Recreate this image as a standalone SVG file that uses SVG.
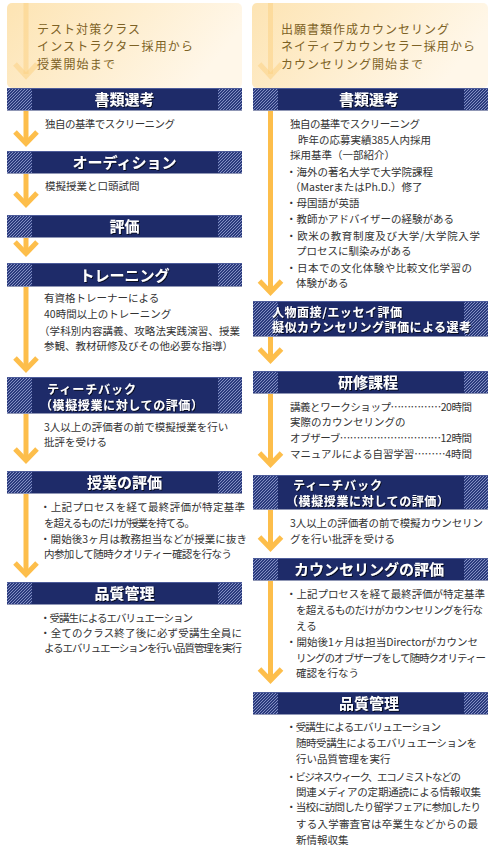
<svg xmlns="http://www.w3.org/2000/svg" width="495" height="850" viewBox="0 0 495 850">
<style>
.bg{fill:#ffffff}
.hdr{fill:url(#hg)}
.bar{fill:#1e2b69}
.btop{fill:#4d5c9a}
.bbot{fill:#9097b5}
.hatch{fill:url(#hatch)}
.ht{font-family:"Noto Sans CJK JP","Noto Sans CJK SC",sans-serif;font-size:12px;fill:#7d6225}
.bt{font-family:"Noto Sans CJK JP","Noto Sans CJK SC",sans-serif;font-size:15px;font-weight:bold;fill:#ffffff;text-anchor:middle;filter:url(#sh)}
.bt2{font-family:"Noto Sans CJK JP","Noto Sans CJK SC",sans-serif;font-size:12px;font-weight:bold;fill:#ffffff;filter:url(#sh)}
.tx{font-family:"Noto Sans CJK JP","Noto Sans CJK SC",sans-serif;font-size:10.5px;fill:#333333}
.ln{stroke:#fdbe4b;stroke-width:5;fill:none}
.chev{stroke:#fdbe4b;stroke-width:5;fill:none;stroke-linejoin:miter;stroke-miterlimit:10}
.fln{stroke:#fcd185;stroke-width:5;fill:none;opacity:0.55}
</style>
<defs>
<linearGradient id="hg" x1="0" y1="0" x2="1" y2="0.3">
<stop offset="0" stop-color="#fde4b3"/>
<stop offset="1" stop-color="#fff7e9"/>
</linearGradient>
<pattern id="hatch" patternUnits="userSpaceOnUse" width="3" height="3">
<rect width="3" height="3" fill="#2a3a7c"/>
<path d="M-1,1 L1,-1 M0,3 L3,0 M2,4 L4,2" stroke="#8d99cb" stroke-width="0.9"/>
</pattern>
<filter id="sh" x="-10%" y="-30%" width="120%" height="160%">
<feDropShadow dx="1" dy="1" stdDeviation="0.4" flood-color="#000000" flood-opacity="0.7"/>
</filter>
</defs>
<rect class="bg" x="0" y="0" width="495" height="850"/>

<!-- headers -->
<g id="header-left">
<rect class="hdr" x="7" y="3" width="235" height="85" rx="5"/>
<line class="fln" x1="26" y1="3" x2="26" y2="74"/>
<polyline class="fln" points="15,64 26,76 37,64"/>
<text class="ht" x="37" y="33.5" textLength="103">テスト対策クラス</text>
<text class="ht" x="37" y="51" textLength="156">インストラクター採用から</text>
<text class="ht" x="37" y="68.5" textLength="78">授業開始まで</text>
</g>
<g id="header-right">
<rect class="hdr" x="252" y="3" width="236" height="85" rx="5"/>
<line class="fln" x1="270.5" y1="3" x2="270.5" y2="74"/>
<polyline class="fln" points="259.5,64 270.5,76 281.5,64"/>
<text class="ht" x="281" y="33.5" textLength="168">出願書類作成カウンセリング</text>
<text class="ht" x="281" y="51" textLength="194">ネイティブカウンセラー採用から</text>
<text class="ht" x="281" y="68.5" textLength="142">カウンセリング開始まで</text>
</g>

<!-- connectors -->
<g id="connectors">
<line class="ln" x1="26" y1="111" x2="26" y2="143"/>
<polyline class="chev" points="15,132 26,143.5 37,132"/>
<line class="ln" x1="26" y1="174" x2="26" y2="204"/>
<polyline class="chev" points="15,193 26,204.5 37,193"/>
<line class="ln" x1="26" y1="238" x2="26" y2="253"/>
<polyline class="chev" points="15,242 26,253.5 37,242"/>
<line class="ln" x1="26" y1="287" x2="26" y2="369"/>
<polyline class="chev" points="15,358 26,369.5 37,358"/>
<line class="ln" x1="26" y1="414" x2="26" y2="460"/>
<polyline class="chev" points="15,449 26,460.5 37,449"/>
<line class="ln" x1="26" y1="494" x2="26" y2="574"/>
<polyline class="chev" points="15,563 26,574.5 37,563"/>

<line class="ln" x1="270.5" y1="111" x2="270.5" y2="292"/>
<polyline class="chev" points="259.5,281 270.5,292.5 281.5,281"/>
<line class="ln" x1="270.5" y1="337" x2="270.5" y2="360"/>
<polyline class="chev" points="259.5,349 270.5,360.5 281.5,349"/>
<line class="ln" x1="270.5" y1="394" x2="270.5" y2="464"/>
<polyline class="chev" points="259.5,453 270.5,464.5 281.5,453"/>
<line class="ln" x1="270.5" y1="510" x2="270.5" y2="548"/>
<polyline class="chev" points="259.5,537 270.5,548.5 281.5,537"/>
<line class="ln" x1="270.5" y1="581" x2="270.5" y2="680"/>
<polyline class="chev" points="259.5,669 270.5,680.5 281.5,669"/>
</g>

<!-- left column nodes -->
<g id="l-shorui">
<rect class="bar" x="7" y="88" width="235" height="23"/>
<rect class="hatch" x="7" y="88" width="25" height="23"/>
<rect class="hatch" x="218" y="88" width="24" height="23"/>
<rect class="btop" x="7" y="88" width="235" height="1"/>
<rect class="bbot" x="7" y="110" width="235" height="1"/>
<text class="bt" x="124.5" y="105">書類選考</text>
<text class="tx" x="45" y="128" textLength="130">独自の基準でスクリーニング</text>
</g>
<g id="l-audition">
<rect class="bar" x="7" y="151" width="235" height="23"/>
<rect class="hatch" x="7" y="151" width="25" height="23"/>
<rect class="hatch" x="218" y="151" width="24" height="23"/>
<rect class="btop" x="7" y="151" width="235" height="1"/>
<rect class="bbot" x="7" y="173" width="235" height="1"/>
<text class="bt" x="124.5" y="168">オーディション</text>
<text class="tx" x="45" y="190">模擬授業と口頭試問</text>
</g>
<g id="l-hyoka">
<rect class="bar" x="7" y="215" width="235" height="23"/>
<rect class="hatch" x="7" y="215" width="25" height="23"/>
<rect class="hatch" x="218" y="215" width="24" height="23"/>
<rect class="btop" x="7" y="215" width="235" height="1"/>
<rect class="bbot" x="7" y="237" width="235" height="1"/>
<text class="bt" x="124.5" y="232">評価</text>
</g>
<g id="l-training">
<rect class="bar" x="7" y="263" width="235" height="24"/>
<rect class="hatch" x="7" y="263" width="25" height="24"/>
<rect class="hatch" x="218" y="263" width="24" height="24"/>
<rect class="btop" x="7" y="263" width="235" height="1"/>
<rect class="bbot" x="7" y="286" width="235" height="1"/>
<text class="bt" x="124.5" y="280.5">トレーニング</text>
<text class="tx" x="44" y="302">有資格トレーナーによる</text>
<text class="tx" x="44" y="318">40時間以上のトレーニング</text>
<text class="tx" x="39" y="335" textLength="201">（学科別内容講義、攻略法実践演習、授業</text>
<text class="tx" x="44" y="350">参観、教材研修及びその他必要な指導）</text>
</g>
<g id="l-teachback">
<rect class="bar" x="7" y="377" width="235" height="37"/>
<rect class="hatch" x="7" y="377" width="25" height="37"/>
<rect class="hatch" x="218" y="377" width="24" height="37"/>
<rect class="btop" x="7" y="377" width="235" height="1"/>
<rect class="bbot" x="7" y="413" width="235" height="1"/>
<text class="bt2" x="47" y="394" textLength="89">ティーチバック</text>
<text class="bt2" x="40" y="409.5" textLength="163">（模擬授業に対しての評価）</text>
<text class="tx" x="44" y="431">3人以上の評価者の前で模擬授業を行い</text>
<text class="tx" x="44" y="446">批評を受ける</text>
</g>
<g id="l-jugyo">
<rect class="bar" x="7" y="471" width="235" height="23"/>
<rect class="hatch" x="7" y="471" width="25" height="23"/>
<rect class="hatch" x="218" y="471" width="24" height="23"/>
<rect class="btop" x="7" y="471" width="235" height="1"/>
<rect class="bbot" x="7" y="493" width="235" height="1"/>
<text class="bt" x="124.5" y="488">授業の評価</text>
<text class="tx" x="40" y="511" textLength="205">・上記プロセスを経て最終評価が特定基準</text>
<text class="tx" x="44" y="527" textLength="151">を超えるものだけが授業を持てる。</text>
<text class="tx" x="40" y="543" textLength="207">・開始後3ヶ月は教務担当などが授業に抜き</text>
<text class="tx" x="44" y="558" textLength="188">内参加して随時クオリティー確認を行なう</text>
</g>
<g id="l-hinshitsu">
<rect class="bar" x="7" y="582" width="235" height="23"/>
<rect class="hatch" x="7" y="582" width="25" height="23"/>
<rect class="hatch" x="218" y="582" width="24" height="23"/>
<rect class="btop" x="7" y="582" width="235" height="1"/>
<rect class="bbot" x="7" y="604" width="235" height="1"/>
<text class="bt" x="124.5" y="599">品質管理</text>
<text class="tx" x="40" y="622" textLength="153">・受講生によるエバリュエーション</text>
<text class="tx" x="40" y="637" textLength="202">・全てのクラス終了後に必ず受講生全員に</text>
<text class="tx" x="44" y="652" textLength="198">よるエバリュエーションを行い品質管理を実行</text>
</g>

<!-- right column nodes -->
<g id="r-shorui">
<rect class="bar" x="253" y="88" width="235" height="23"/>
<rect class="hatch" x="253" y="88" width="25" height="23"/>
<rect class="hatch" x="464" y="88" width="24" height="23"/>
<rect class="btop" x="253" y="88" width="235" height="1"/>
<rect class="bbot" x="253" y="110" width="235" height="1"/>
<text class="bt" x="369" y="105">書類選考</text>
<text class="tx" x="290" y="128" textLength="130">独自の基準でスクリーニング</text>
<text class="tx" x="298" y="144">昨年の応募実績385人内採用</text>
<text class="tx" x="290" y="159">採用基準（一部紹介）</text>
<text class="tx" x="286" y="176">・海外の著名大学で大学院課程</text>
<text class="tx" x="290" y="191">（MasterまたはPh.D.）修了</text>
<text class="tx" x="286" y="207">・母国語が英語</text>
<text class="tx" x="286" y="223">・教師かアドバイザーの経験がある</text>
<text class="tx" x="286" y="240" textLength="194">・欧米の教育制度及び大学/大学院入学</text>
<text class="tx" x="296" y="255">プロセスに馴染みがある</text>
<text class="tx" x="286" y="272" textLength="186">・日本での文化体験や比較文化学習の</text>
<text class="tx" x="296" y="287">体験がある</text>
</g>
<g id="r-mensetsu">
<rect class="bar" x="253" y="301" width="235" height="36"/>
<rect class="hatch" x="253" y="301" width="25" height="36"/>
<rect class="hatch" x="464" y="301" width="24" height="36"/>
<rect class="btop" x="253" y="301" width="235" height="1"/>
<rect class="bbot" x="253" y="336" width="235" height="1"/>
<text class="bt2" x="272" y="316.5" textLength="130">人物面接/エッセイ評価</text>
<text class="bt2" x="272" y="332" textLength="199">擬似カウンセリング評価による選考</text>
</g>
<g id="r-kenshu">
<rect class="bar" x="253" y="371" width="235" height="23"/>
<rect class="hatch" x="253" y="371" width="25" height="23"/>
<rect class="hatch" x="464" y="371" width="24" height="23"/>
<rect class="btop" x="253" y="371" width="235" height="1"/>
<rect class="bbot" x="253" y="393" width="235" height="1"/>
<text class="bt" x="368" y="388">研修課程</text>
<text class="tx" x="290" y="411" textLength="182">講義とワークショップ……………20時間</text>
<text class="tx" x="290" y="426">実際のカウンセリングの</text>
<text class="tx" x="290" y="442" textLength="182">オブザーブ…………………………12時間</text>
<text class="tx" x="290" y="458" textLength="182">マニュアルによる自習学習………4時間</text>
</g>
<g id="r-teachback">
<rect class="bar" x="253" y="475" width="235" height="35"/>
<rect class="hatch" x="253" y="475" width="25" height="35"/>
<rect class="hatch" x="464" y="475" width="24" height="35"/>
<rect class="btop" x="253" y="475" width="235" height="1"/>
<rect class="bbot" x="253" y="509" width="235" height="1"/>
<text class="bt2" x="293" y="489.5" textLength="89">ティーチバック</text>
<text class="bt2" x="286" y="505.5" textLength="163">（模擬授業に対しての評価）</text>
<text class="tx" x="290" y="527" textLength="193">3人以上の評価者の前で模擬カウンセリン</text>
<text class="tx" x="290" y="543">グを行い批評を受ける</text>
</g>
<g id="r-counseling">
<rect class="bar" x="253" y="558" width="235" height="23"/>
<rect class="hatch" x="253" y="558" width="25" height="23"/>
<rect class="hatch" x="464" y="558" width="24" height="23"/>
<rect class="btop" x="253" y="558" width="235" height="1"/>
<rect class="bbot" x="253" y="580" width="235" height="1"/>
<text class="bt" x="369" y="575">カウンセリングの評価</text>
<text class="tx" x="286" y="598" textLength="199">・上記プロセスを経て最終評価が特定基準</text>
<text class="tx" x="296" y="614" textLength="187">を超えるものだけがカウンセリングを行な</text>
<text class="tx" x="296" y="630">える</text>
<text class="tx" x="286" y="646" textLength="192">・開始後1ヶ月は担当Directorがカウンセ</text>
<text class="tx" x="296" y="662" textLength="190">リングのオブザーブをして随時クオリティー</text>
<text class="tx" x="296" y="677">確認を行なう</text>
</g>
<g id="r-hinshitsu">
<rect class="bar" x="253" y="692" width="235" height="23"/>
<rect class="hatch" x="253" y="692" width="25" height="23"/>
<rect class="hatch" x="464" y="692" width="24" height="23"/>
<rect class="btop" x="253" y="692" width="235" height="1"/>
<rect class="bbot" x="253" y="714" width="235" height="1"/>
<text class="bt" x="369" y="709">品質管理</text>
<text class="tx" x="286" y="731" textLength="155">・受講生によるエバリュエーション</text>
<text class="tx" x="296" y="747" textLength="181">随時受講生によるエバリュエーションを</text>
<text class="tx" x="296" y="763">行い品質管理を実行</text>
<text class="tx" x="286" y="781" textLength="175">・ビジネスウィーク、エコノミストなどの</text>
<text class="tx" x="296" y="796" textLength="185">関連メディアの定期通読による情報収集</text>
<text class="tx" x="286" y="811" textLength="195">・当校に訪問したり留学フェアに参加したり</text>
<text class="tx" x="296" y="828" textLength="182">する入学審査官は卒業生などからの最</text>
<text class="tx" x="296" y="844">新情報収集</text>
</g>
</svg>
